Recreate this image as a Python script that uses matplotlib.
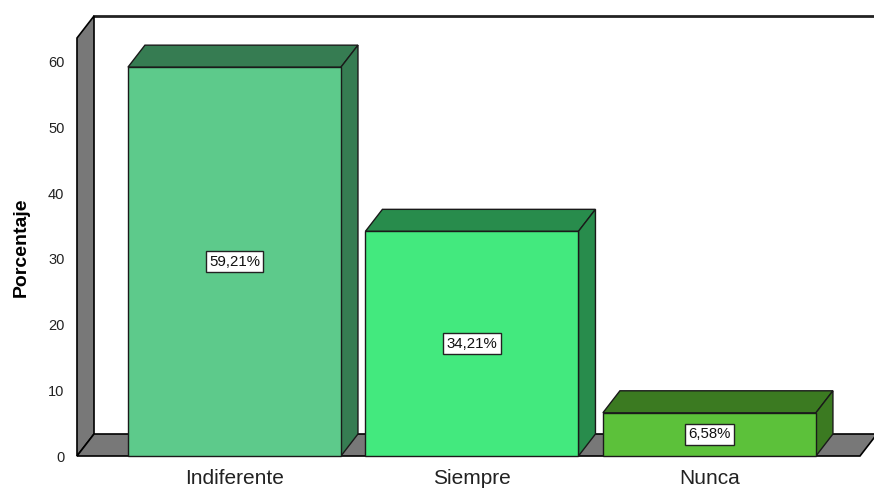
import numpy as np
import matplotlib.pyplot as plt
from matplotlib.patches import Polygon

plt.rcParams['font.family'] = ['Liberation Sans', 'DejaVu Sans']

categories = ['Indiferente', 'Siempre', 'Nunca']
percentages = [59.21, 34.21, 6.58]
y_ticks = [0, 10, 20, 30, 40, 50, 60]

front_colors = ['#5dca8b', '#43e97e', '#5cc13a']
depth_colors = ['#367c52', '#288c4c', '#3b7a21']
wall_gray = '#787878'

fig = plt.figure(figsize=(8.74, 4.88), dpi=100)
ax = fig.add_axes([77 / 874, 32 / 488, 797 / 874, 418 / 488])
ax.set_facecolor('none')

x_lo, x_hi = -0.663, 2.693
y_hi = 63.65
ax.set_xlim(x_lo, x_hi)
ax.set_ylim(0, y_hi)

# fake 3D depth in data units
DX = 0.0716
DY = 3.35
bar_w = 0.897

# back wall top edge
ax.plot([x_lo + DX, x_hi + 1], [y_hi + DY, y_hi + DY], color='#222222', lw=2, clip_on=False, zorder=1)
# left side wall
ax.add_patch(Polygon([(x_lo, 0), (x_lo, y_hi), (x_lo + DX, y_hi + DY), (x_lo + DX, DY)],
                     closed=True, facecolor=wall_gray, edgecolor='black', lw=1.2, clip_on=False, zorder=2))
# floor
floor_r = 2.634
ax.add_patch(Polygon([(x_lo, 0), (floor_r, 0), (floor_r + DX, DY), (x_lo + DX, DY)],
                     closed=True, facecolor=wall_gray, edgecolor='black', lw=1.2, clip_on=False, zorder=2))

x = np.arange(len(categories))
for i, v in enumerate(percentages):
    l, r = x[i] - bar_w / 2, x[i] + bar_w / 2
    ax.add_patch(Polygon([(l, v), (r, v), (r + DX, v + DY), (l + DX, v + DY)], closed=True,
                         facecolor=depth_colors[i], edgecolor='#1a1a1a', lw=1, clip_on=False, zorder=3))
    ax.add_patch(Polygon([(r, 0), (r + DX, DY), (r + DX, v + DY), (r, v)], closed=True,
                         facecolor=depth_colors[i], edgecolor='#1a1a1a', lw=1, clip_on=False, zorder=3))
    ax.bar(x[i], v, width=bar_w, color=front_colors[i], edgecolor='#1a1a1a', lw=1, zorder=4, clip_on=False)
    ax.text(x[i], v / 2, f'{v:.2f}%'.replace('.', ','), ha='center', va='center', fontsize=10.8,
            color='#111111', zorder=5,
            bbox=dict(boxstyle='square,pad=0.22', facecolor='white', edgecolor='#222222', lw=1))

ax.set_xticks(x)
ax.set_xticklabels(categories, fontsize=15, color='#222222')
ax.set_yticks(y_ticks)
ax.set_yticklabels([str(t) for t in y_ticks], fontsize=10.5, color='#222222')
ax.tick_params(axis='both', length=0)
ax.tick_params(axis='y', pad=9)
ax.tick_params(axis='x', pad=9)
for s in ax.spines.values():
    s.set_visible(False)

ax.set_ylabel('Porcentaje', fontsize=14, fontweight='bold', labelpad=13)

fig.savefig('out.png', dpi=100)
